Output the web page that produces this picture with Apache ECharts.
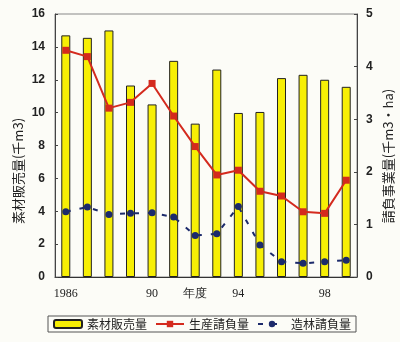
<!DOCTYPE html>
<html><head><meta charset="utf-8">
<script src="https://cdn.jsdelivr.net/npm/echarts@6/dist/echarts.min.js"></script>
<style>html,body{margin:0;padding:0;background:#fcfcf7;}#c{width:400px;height:342px;}</style>
</head><body><div id="c"></div>
<script>
const years = ['1986','1987','1988','1989','1990','1991','1992','1993','1994','1995','1996','1997','1998','1999'];
const tickLabels = ['1986','','','','90','','年度','','94','','','','98',''];
const salesVolume = [14.7,14.55,15.0,11.65,10.5,13.15,9.33,12.62,9.98,10.04,12.1,12.3,12.0,11.57];
const productionContract = [4.31,4.19,3.21,3.32,3.68,3.06,2.48,1.94,2.03,1.63,1.54,1.24,1.21,1.84];
const reforestContract = [1.24,1.33,1.19,1.21,1.22,1.14,0.79,0.82,1.34,0.61,0.29,0.26,0.29,0.32];
const leftTicks = {min:0,max:16,interval:2};
const rightTicks = {min:0,max:5,interval:1};

const chart = echarts.init(document.getElementById('c'));
const cjk = '"Noto Sans CJK JP", sans-serif';
chart.setOption({
  backgroundColor:'#fcfcf7',
  animation:false,
  grid:{left:55,right:43,top:14,bottom:65,show:true,borderColor:'#888',borderWidth:1},
  legend:{
    left:48, top:316, padding:[2,5,2,5], itemGap:8, itemWidth:28, itemHeight:8,
    borderColor:'#555', borderWidth:1, borderRadius:0,
    textStyle:{fontFamily:cjk,fontSize:12,color:'#222'},
    data:['素材販売量','生産請負量','造林請負量']
  },
  xAxis:{type:'category',data:years,
    axisLine:{lineStyle:{color:'#333'}},axisTick:{show:false},
    axisLabel:{interval:0,margin:11,fontFamily:'"Liberation Serif", serif',fontSize:12,color:'#222',
      formatter:(v,i)=>tickLabels[i]}},
  yAxis:[
    {type:'value',min:leftTicks.min,max:leftTicks.max,interval:leftTicks.interval,
     splitLine:{show:false},axisLine:{show:true,lineStyle:{color:'#444'}},
     axisTick:{show:true,inside:true,length:3,lineStyle:{color:'#444'}},
     axisLabel:{margin:10,fontFamily:'"Liberation Sans", Arial',fontSize:12,fontWeight:'bold',color:'#222'}},
    {type:'value',min:rightTicks.min,max:rightTicks.max,interval:rightTicks.interval,position:'right',
     splitLine:{show:false},axisLine:{show:true,lineStyle:{color:'#444'}},
     axisTick:{show:true,inside:true,length:3,lineStyle:{color:'#444'}},
     axisLabel:{margin:9,fontFamily:'"Liberation Sans", Arial',fontSize:12,fontWeight:'bold',color:'#222'}}
  ],
  graphic:[
    {type:'text',x:18,y:171,rotation:Math.PI/2,
     style:{text:'素材販売量(千m3)',font:'13px "Noto Sans CJK JP"',fill:'#222',textAlign:'center',textVerticalAlign:'middle'}},
    {type:'text',x:388,y:156,rotation:Math.PI/2,
     style:{text:'請負事業量(千m3・ha)',font:'13px "Noto Sans CJK JP"',fill:'#222',textAlign:'center',textVerticalAlign:'middle'}}
  ],
  series:[
    {name:'素材販売量',type:'bar',data:salesVolume,yAxisIndex:0,barWidth:9,
     itemStyle:{color:'#f7ef05',borderColor:'#222',borderWidth:1}},
    {name:'生産請負量',type:'line',data:productionContract,yAxisIndex:1,
     symbol:'rect',symbolSize:7,
     lineStyle:{color:'#d42a1e',width:2},itemStyle:{color:'#d42a1e'}},
    {name:'造林請負量',type:'line',data:reforestContract,yAxisIndex:1,
     symbol:'circle',symbolSize:7,
     lineStyle:{color:'#1c2a6b',width:2,type:[5,9]},itemStyle:{color:'#1c2a6b'}}
  ]
});
</script></body></html>
